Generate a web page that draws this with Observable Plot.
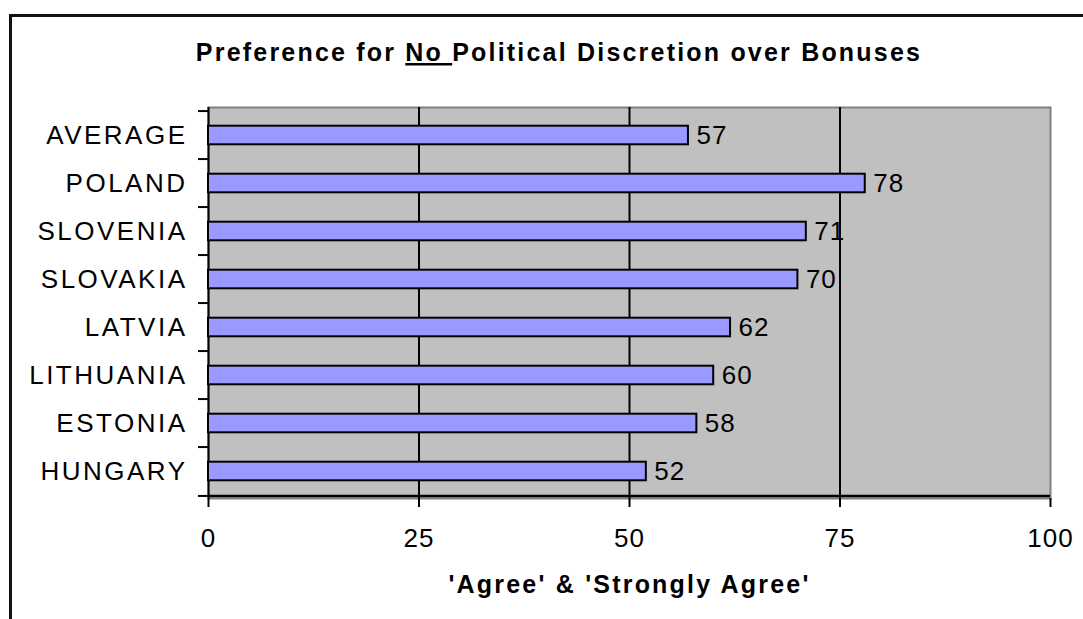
<!DOCTYPE html>
<html><head><meta charset="utf-8">
<script src="https://cdn.jsdelivr.net/npm/d3@7"></script>
<script src="https://cdn.jsdelivr.net/npm/@observablehq/plot@0.6"></script>
<style>
html,body{margin:0;padding:0;background:#fff;overflow:hidden;width:1083px;height:619px}
#wrap{position:relative;width:1083px;height:619px;overflow:hidden}
#border{position:absolute;left:9px;top:14px;width:2000px;height:2000px;border-left:3px solid #111;border-top:3px solid #111}
#chart{position:absolute;left:0;top:0}
#title{position:absolute;left:0;top:0}
#chart svg text{letter-spacing:1px}
#chart svg g[aria-label="y-axis tick label"] text{letter-spacing:2.5px}
</style>
</head><body>
<div id="wrap"><div id="border"></div><div id="chart"></div><svg id="title" width="1083" height="100"></svg></div>
<script>
const countries = ["AVERAGE","POLAND","SLOVENIA","SLOVAKIA","LATVIA","LITHUANIA","ESTONIA","HUNGARY"];
const values = [57,78,71,70,62,60,58,52];
const xTicks = [0,25,50,75,100];
const gridValues = [25,50,75];
const titleParts = ["Preference for ","No ","Political Discretion over Bonuses"];
const xLabel = "'Agree' & 'Strongly Agree'";

const data = countries.map((c,i)=>({country:c, value:values[i]}));
const W = 1083, H = 619, mL = 208, mR = 33, mT = 107, mB = 121;
const bw = (H - mT - mB) / countries.length;
const font = "'Liberation Sans', Arial, sans-serif";

const chart = Plot.plot({
  width: W, height: H,
  marginLeft: mL, marginRight: mR, marginTop: mT, marginBottom: mB,
  style: {fontFamily: font, fontSize: "26px", color: "#000", background: "transparent", overflow: "visible"},
  x: {domain: [0,100], nice: false},
  y: {domain: countries, padding: 0},
  marks: [
    Plot.frame({fill: "#c0c0c0", stroke: "#808080", strokeWidth: 2}),
    Plot.ruleX(gridValues, {stroke: "#000", strokeWidth: 2}),
    Plot.ruleX([0], {stroke: "#000", strokeWidth: 2}),
    Plot.ruleY([countries[countries.length-1]], {x1: 0, x2: 100, dy: bw/2, stroke: "#000", strokeWidth: 2.5}),
    Plot.barX(data, {x: "value", y: "country", fill: "#9999ff", stroke: "#000", strokeWidth: 2, insetTop: 14.7, insetBottom: 14.7}),
    Plot.text(data, {x: "value", y: "country", text: d => String(d.value), textAnchor: "start", dx: 8, fontSize: 26, fill: "#000"}),
    Plot.axisX({ticks: xTicks, tickSize: 9, tickPadding: 21, fontSize: 26, label: null, strokeWidth: 2}),
    Plot.axisY({tickSize: 0, tickPadding: 21, fontSize: 26, label: null}),
    Plot.axisY({ticks: countries, tickSize: 10, dy: -bw/2, tickFormat: () => "", label: null, strokeWidth: 2}),
    Plot.axisY({ticks: [countries[countries.length-1]], tickSize: 10, dy: bw/2, tickFormat: () => "", label: null, strokeWidth: 2}),
    Plot.text([xLabel], {frameAnchor: "bottom", lineAnchor: "bottom", dy: 94, fontWeight: "bold", fontSize: 25, fill: "#000"})
  ]
});
document.getElementById("chart").appendChild(chart);
d3.select(chart).selectAll("text").filter(function(){ return this.textContent === xLabel; })
  .style("letter-spacing", "2.2px");

const t = d3.select("#title").append("text")
  .attr("x", 559).attr("y", 61)
  .attr("text-anchor", "middle")
  .style("font-family", font).style("font-weight", "bold").style("font-size", "25px")
  .style("letter-spacing", "2.2px").attr("fill", "#000");
titleParts.forEach((p,i) => {
  const s = t.append("tspan").text(p);
  if (i === 1) s.style("text-decoration", "underline");
});
</script>
</body></html>
